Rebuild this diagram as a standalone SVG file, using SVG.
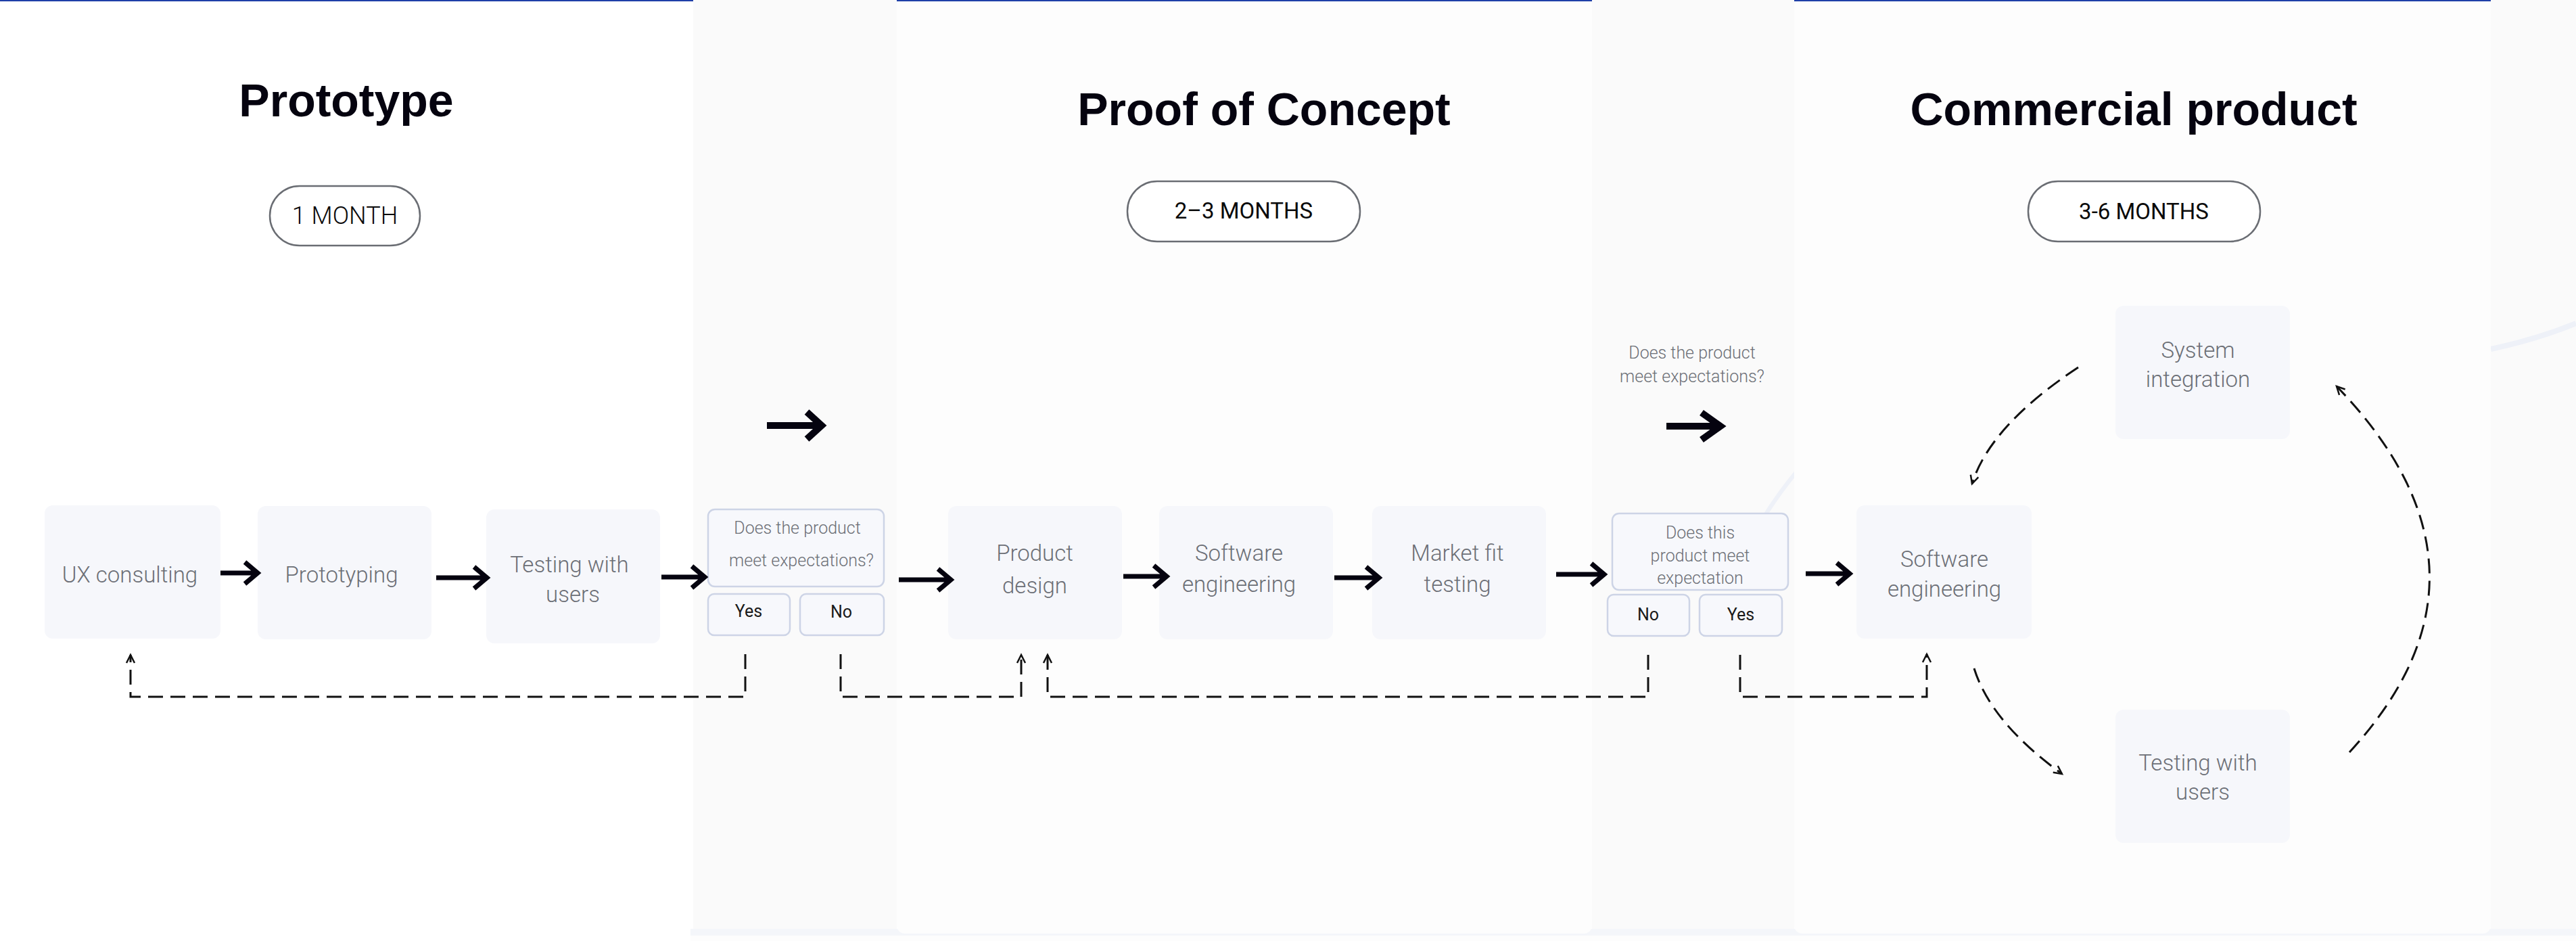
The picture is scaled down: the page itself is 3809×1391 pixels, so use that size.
<svg xmlns="http://www.w3.org/2000/svg" width="3809" height="1391" viewBox="0 0 3809 1391">
<style>
.title{font-family:"Liberation Sans",Arial,sans-serif;font-weight:700;font-size:68px;fill:#05030f;text-anchor:middle}
.pill rect{fill:#ffffff;stroke:#6a6d73;stroke-width:2.5}
.pilltxt{font-family:Roboto,"Liberation Sans",sans-serif;font-size:33px;fill:#0a0a0a;text-anchor:middle}
.node rect{fill:#f6f7fb}
.ntxt{font-family:Roboto,"Liberation Sans",sans-serif;font-weight:300;font-size:33px;fill:#6c6f76;text-anchor:middle}
.dec rect{fill:#f7f8fc;stroke:#cdd4e6;stroke-width:2.5}
.dtxt{font-family:Roboto,"Liberation Sans",sans-serif;font-weight:300;font-size:25px;fill:#6c6f76;text-anchor:middle}
.yn{font-family:Roboto,"Liberation Sans",sans-serif;font-weight:400;font-size:25px;fill:#1a1a1a;text-anchor:middle}
.arrow{fill:none;stroke:#05030f;stroke-width:7;stroke-linejoin:miter}
.big{fill:none;stroke:#05030f;stroke-width:10;stroke-linejoin:miter}
.dash{fill:none;stroke:#111111;stroke-width:3;stroke-dasharray:22 11;marker-end:url(#ah)}
</style>
<defs>
<marker id="ah" viewBox="-16 -10 20 20" refX="0" refY="0" markerWidth="20" markerHeight="20" markerUnits="userSpaceOnUse" orient="auto">
<path d="M-12,-6 L0,0 L-12,6" fill="none" stroke="#111111" stroke-width="2.5" stroke-dasharray="none"/>
</marker>
</defs>
<g id="background">
<rect x="0" y="0" width="3809" height="1391" fill="#ffffff"/>
<rect x="1025" y="0" width="301" height="1373" fill="#fafafa"/>
<rect x="2354" y="0" width="299" height="1373" fill="#fafafa"/>
<rect x="3683" y="0" width="126" height="1373" fill="#fafafa"/>
<rect x="1021" y="1373" width="2788" height="10" fill="#f4f6fa"/>
<rect x="1021" y="1383" width="2788" height="8" fill="#fdfdfd"/>
<path d="M2600,778 Q2625,735 2660,693" fill="none" stroke="#eef1f8" stroke-width="6"/>
<path d="M3683,516 Q3750,502 3809,478" fill="none" stroke="#eef1f8" stroke-width="8"/>
<rect x="1326" y="-20" width="1028" height="1400" rx="12" fill="#fdfdfd"/>
<rect x="2653" y="-20" width="1030" height="1400" rx="12" fill="#fdfdfd"/>
<rect x="0" y="0" width="1025" height="2" fill="#1f3fa8"/>
<rect x="1326" y="0" width="1028" height="2" fill="#1f3fa8"/>
<rect x="2653" y="0" width="1030" height="2" fill="#1f3fa8"/>
</g>
<g id="titles">
<text class="title" x="512" y="172">Prototype</text>
<text class="title" x="1869" y="185">Proof of Concept</text>
<text class="title" x="3155" y="185">Commercial product</text>
</g>
<g id="pill-1month" class="pill">
<rect x="399" y="275" width="222" height="88" rx="44"/>
<text class="pilltxt" x="510" y="331" style="font-weight:300;font-size:36px">1 MONTH</text>
</g>
<g id="pill-2-3months" class="pill">
<rect x="1667" y="268" width="344" height="89" rx="44"/>
<text class="pilltxt" x="1839" y="323">2–3 MONTHS</text>
</g>
<g id="pill-3-6months" class="pill">
<rect x="2999" y="268" width="343" height="89" rx="44"/>
<text class="pilltxt" x="3170" y="324">3-6 MONTHS</text>
</g>
<g id="node-ux" class="node">
<rect x="66" y="747" width="260" height="197" rx="12"/>
<text class="ntxt" x="192" y="861">UX consulting</text>
</g>
<g id="node-prototyping" class="node">
<rect x="381" y="748" width="257" height="197" rx="12"/>
<text class="ntxt" x="505" y="861">Prototyping</text>
</g>
<g id="node-testing1" class="node">
<rect x="719" y="753" width="257" height="198" rx="12"/>
<text class="ntxt" x="842" y="846">Testing with</text>
<text class="ntxt" x="847" y="890">users</text>
</g>
<g id="decision-1" class="dec">
<rect x="1047" y="753" width="260" height="114" rx="10"/>
<text class="dtxt" x="1179" y="789">Does the product</text>
<text class="dtxt" x="1185" y="837">meet expectations?</text>
</g>
<g id="decision-1-yes" class="dec">
<rect x="1047" y="878" width="121" height="61" rx="9"/>
<text class="yn" x="1107" y="912">Yes</text>
</g>
<g id="decision-1-no" class="dec">
<rect x="1183" y="878" width="124" height="61" rx="9"/>
<text class="yn" x="1244" y="913">No</text>
</g>
<g id="node-product-design" class="node">
<rect x="1402" y="748" width="257" height="197" rx="12"/>
<text class="ntxt" x="1530" y="829">Product</text>
<text class="ntxt" x="1530" y="877">design</text>
</g>
<g id="node-software1" class="node">
<rect x="1714" y="748" width="257" height="197" rx="12"/>
<text class="ntxt" x="1832" y="829">Software</text>
<text class="ntxt" x="1832" y="875">engineering</text>
</g>
<g id="node-market" class="node">
<rect x="2029" y="748" width="257" height="197" rx="12"/>
<text class="ntxt" x="2155" y="829">Market fit</text>
<text class="ntxt" x="2155" y="875">testing</text>
</g>
<g id="question-2">
<text class="dtxt" x="2502" y="530">Does the product</text>
<text class="dtxt" x="2502" y="565">meet expectations?</text>
</g>
<g id="decision-2" class="dec">
<rect x="2384" y="759" width="260" height="113" rx="10"/>
<text class="dtxt" x="2514" y="796">Does this</text>
<text class="dtxt" x="2514" y="830">product meet</text>
<text class="dtxt" x="2514" y="863">expectation</text>
</g>
<g id="decision-2-no" class="dec">
<rect x="2377" y="879" width="121" height="61" rx="9"/>
<text class="yn" x="2437" y="917">No</text>
</g>
<g id="decision-2-yes" class="dec">
<rect x="2513" y="879" width="122" height="61" rx="9"/>
<text class="yn" x="2574" y="917">Yes</text>
</g>
<g id="node-software2" class="node">
<rect x="2745" y="747" width="259" height="197" rx="12"/>
<text class="ntxt" x="2875" y="838">Software</text>
<text class="ntxt" x="2875" y="882">engineering</text>
</g>
<g id="node-system" class="node">
<rect x="3128" y="452" width="258" height="197" rx="12"/>
<text class="ntxt" x="3250" y="529">System</text>
<text class="ntxt" x="3250" y="572">integration</text>
</g>
<g id="node-testing2" class="node">
<rect x="3128" y="1049" width="258" height="197" rx="12"/>
<text class="ntxt" x="3250" y="1139">Testing with</text>
<text class="ntxt" x="3257" y="1182">users</text>
</g>
<g id="connectors">
<path class="arrow" d="M326,847 H380 M362,831 L381,847 L362,863"/>
<path class="arrow" d="M645,854 H719 M701,838 L720,854 L701,870"/>
<path class="arrow" d="M978,853 H1041 M1023,837 L1042,853 L1023,869"/>
<path class="arrow" d="M1329,857 H1405 M1387,841 L1406,857 L1387,873"/>
<path class="arrow" d="M1661,852 H1724 M1706,836 L1725,852 L1706,868"/>
<path class="arrow" d="M1973,854 H2038 M2020,838 L2039,854 L2020,870"/>
<path class="arrow" d="M2301,849 H2371 M2353,833 L2372,849 L2353,865"/>
<path class="arrow" d="M2670,848 H2734 M2716,832 L2735,848 L2716,864"/>
<path class="big" d="M1134,629 H1214 M1193,609 L1215,629 L1193,649"/>
<path class="big" d="M2464,630 H2543 M2516,610 L2544,630 L2516,650"/>
<path class="dash" d="M1102,967 V1030 H193 V968"/>
<path class="dash" d="M1243,967 V1030 H1510 V968"/>
<path class="dash" d="M2437,968 V1030 H1549 V968"/>
<path class="dash" d="M2573,968 V1030 H2849 V967"/>
<path class="dash" d="M3073,543 Q2943,629 2916,715"/>
<path class="dash" d="M2919,988 Q2944,1068 3049,1144"/>
<path class="dash" d="M3474,1112 Q3720,845 3455,571"/>
</g>
</svg>
